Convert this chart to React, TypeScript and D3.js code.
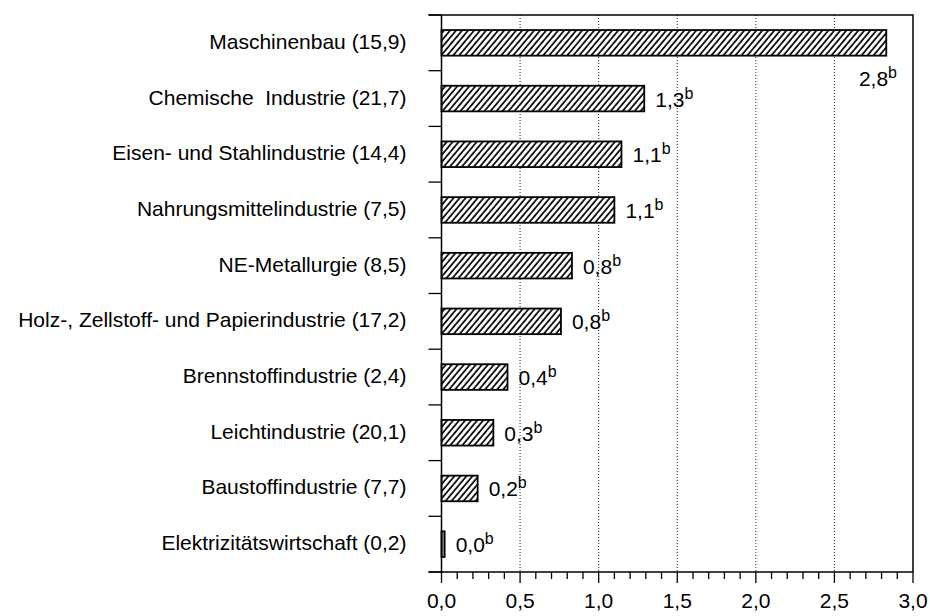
import React, { useRef, useEffect } from 'react';
import { select, scaleLinear, scaleBand, range } from 'd3';

const categories = [
  'Maschinenbau (15,9)',
  'Chemische  Industrie (21,7)',
  'Eisen- und Stahlindustrie (14,4)',
  'Nahrungsmittelindustrie (7,5)',
  'NE-Metallurgie (8,5)',
  'Holz-, Zellstoff- und Papierindustrie (17,2)',
  'Brennstoffindustrie (2,4)',
  'Leichtindustrie (20,1)',
  'Baustoffindustrie (7,7)',
  'Elektrizitätswirtschaft (0,2)',
];
const values = [2.83, 1.29, 1.145, 1.1, 0.83, 0.76, 0.42, 0.33, 0.23, 0.02];
const valueLabels = ['2,8', '1,3', '1,1', '1,1', '0,8', '0,8', '0,4', '0,3', '0,2', '0,0'];
const majorTicks = [0, 0.5, 1, 1.5, 2, 2.5, 3];
const tickLabels = ['0,0', '0,5', '1,0', '1,5', '2,0', '2,5', '3,0'];

const dims = { width: 930, height: 616, left: 441.5, right: 913, top: 15, bottom: 572 };
const font = 'Liberation Sans, Arial, Helvetica, sans-serif';

const App = () => {
  const svgRef = useRef(null);

  useEffect(() => {
    const svg = select(svgRef.current);
    svg.selectAll('*').remove();

    const x = scaleLinear().domain([0, 3]).range([dims.left, dims.right]);
    const y = scaleBand<string>()
      .domain(categories)
      .range([dims.top, dims.bottom])
      .paddingInner(0.54)
      .paddingOuter(0.27);

    const defs = svg.append('defs');
    const pat = defs
      .append('pattern')
      .attr('id', 'hatch')
      .attr('patternUnits', 'userSpaceOnUse')
      .attr('width', 4.6)
      .attr('height', 10)
      .attr('patternTransform', 'rotate(40)');
    pat.append('rect').attr('width', 4.6).attr('height', 10).attr('fill', '#fff');
    pat
      .append('line')
      .attr('x1', 1)
      .attr('x2', 1)
      .attr('y1', 0)
      .attr('y2', 10)
      .attr('stroke', '#000')
      .attr('stroke-width', 1.7);

    // dotted grid
    svg
      .append('g')
      .selectAll('line')
      .data(majorTicks.filter((t) => t > 0 && t < 3))
      .join('line')
      .attr('x1', (d) => x(d))
      .attr('x2', (d) => x(d))
      .attr('y1', dims.top)
      .attr('y2', dims.bottom)
      .attr('stroke', '#222')
      .attr('stroke-width', 1)
      .attr('stroke-dasharray', '1,2');

    // frame top + right
    svg
      .append('path')
      .attr('d', `M${dims.left - 13},${dims.top}H${x(3)}V${dims.bottom}`)
      .attr('fill', 'none')
      .attr('stroke', '#000')
      .attr('stroke-width', 1.5);

    // bars
    svg
      .append('g')
      .selectAll('rect')
      .data(values)
      .join('rect')
      .attr('x', x(0))
      .attr('y', (_, i) => y(categories[i])!)
      .attr('width', (d) => x(d) - x(0))
      .attr('height', y.bandwidth())
      .attr('fill', (d) => (d < 0.05 ? '#999' : 'url(#hatch)'))
      .attr('stroke', '#000')
      .attr('stroke-width', 1.8);

    // value labels
    svg
      .append('g')
      .attr('font-family', font)
      .attr('font-size', 21)
      .attr('fill', '#000')
      .selectAll('text')
      .data(valueLabels)
      .join('text')
      .each(function (d, i) {
        const t = select(this);
        const cy = y(categories[i])! + y.bandwidth() / 2;
        const end = x(values[i]);
        if (end + 60 > x(3)) {
          t.attr('x', x(3) - 16).attr('y', cy + 43).attr('text-anchor', 'end');
        } else {
          t.attr('x', end + 11).attr('y', cy + 8);
        }
        t.append('tspan').text(d);
        t.append('tspan').attr('font-size', 16).attr('dy', -8).text('b');
      });

    // left axis
    const ax = svg.append('g').attr('stroke', '#000');
    ax.append('line')
      .attr('x1', x(0))
      .attr('x2', x(0))
      .attr('y1', dims.top)
      .attr('y2', dims.bottom)
      .attr('stroke-width', 1.5);
    const bounds = range(categories.length + 1).map(
      (i) => dims.top + (i * (dims.bottom - dims.top)) / categories.length
    );
    ax.selectAll('line.tk')
      .data(bounds)
      .join('line')
      .attr('class', 'tk')
      .attr('x1', x(0) - 13)
      .attr('x2', x(0))
      .attr('y1', (d) => d)
      .attr('y2', (d) => d)
      .attr('stroke-width', 1.3);

    svg
      .append('g')
      .attr('font-family', font)
      .attr('font-size', 21)
      .attr('text-anchor', 'end')
      .selectAll('text')
      .data(categories)
      .join('text')
      .attr('x', x(0) - 35)
      .attr('y', (d) => y(d)! + y.bandwidth() / 2 + 6)
      .attr('xml:space', 'preserve')
      .style('white-space', 'pre')
      .text((d) => d);

    // bottom axis
    const bx = svg.append('g').attr('stroke', '#000');
    bx.append('line')
      .attr('x1', x(0) - 13)
      .attr('x2', x(3))
      .attr('y1', dims.bottom)
      .attr('y2', dims.bottom)
      .attr('stroke-width', 1.5);
    bx.selectAll('line.minor')
      .data(range(0, 31).map((i) => i / 10))
      .join('line')
      .attr('class', 'minor')
      .attr('x1', (d) => x(d))
      .attr('x2', (d) => x(d))
      .attr('y1', dims.bottom)
      .attr('y2', (_, i) => dims.bottom + (i % 5 === 0 ? 11 : 7))
      .attr('stroke-width', 1.3);

    svg
      .append('g')
      .attr('font-family', font)
      .attr('font-size', 21)
      .attr('text-anchor', 'middle')
      .selectAll('text')
      .data(majorTicks)
      .join('text')
      .attr('x', (d) => x(d))
      .attr('y', 608)
      .text((_, i) => tickLabels[i]);
  }, []);

  return (
    <svg
      ref={svgRef}
      width={dims.width}
      height={dims.height}
      style={{ position: 'absolute', left: 0, top: 0, background: '#fff' }}
    ></svg>
  );
};

export default App;
